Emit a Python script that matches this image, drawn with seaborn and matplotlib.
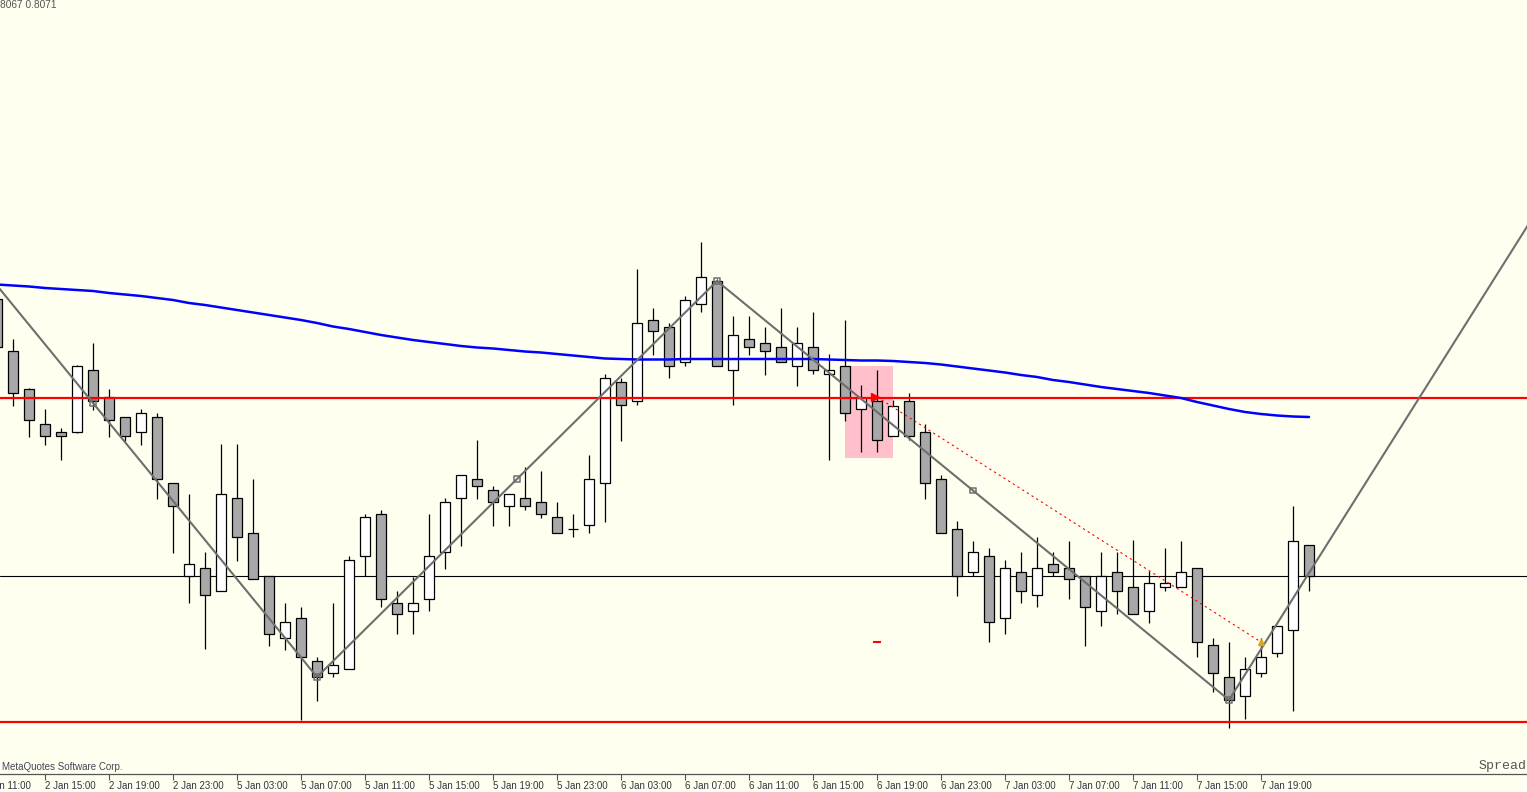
import numpy as np
import pandas as pd
import matplotlib
matplotlib.use("Agg")
import matplotlib.pyplot as plt
import seaborn as sns
from matplotlib.patches import Rectangle

# H1 candles, 2 Jan 12:00 .. 7 Jan 22:00 (weekend skipped)
open_ = [0.81162, 0.81058, 0.80982, 0.80912, 0.80896, 0.80896, 0.81020, 0.80966, 0.80926, 0.80896,
         0.80926, 0.80794, 0.80608, 0.80624, 0.80578, 0.80764, 0.80694, 0.80608, 0.80484, 0.80524,
         0.80438, 0.80414, 0.80422, 0.80648, 0.80732, 0.80554, 0.80538, 0.80562, 0.80656, 0.80764,
         0.80802, 0.80780, 0.80748, 0.80764, 0.80756, 0.80726, 0.80702, 0.80710, 0.80794, 0.80996,
         0.80958, 0.81120, 0.81106, 0.81036, 0.81152, 0.81198, 0.81020, 0.81082, 0.81074, 0.81066,
         0.81028, 0.81066, 0.81012, 0.81028, 0.80942, 0.80958, 0.80888, 0.80958, 0.80896, 0.80802,
         0.80702, 0.80616, 0.80648, 0.80524, 0.80616, 0.80570, 0.80632, 0.80624, 0.80608, 0.80538,
         0.80616, 0.80586, 0.80538, 0.80586, 0.80586, 0.80624, 0.80470, 0.80406, 0.80368, 0.80414,
         0.80454, 0.80500, 0.80670]
high = [0.81180, 0.81082, 0.80984, 0.80942, 0.80904, 0.81030, 0.81074, 0.80982, 0.80926, 0.80942,
        0.80934, 0.80794, 0.80772, 0.80656, 0.80872, 0.80872, 0.80802, 0.80608, 0.80554, 0.80546,
        0.80446, 0.80554, 0.80648, 0.80732, 0.80740, 0.80578, 0.80606, 0.80732, 0.80764, 0.80810,
        0.80880, 0.80788, 0.80772, 0.80826, 0.80818, 0.80756, 0.80732, 0.80850, 0.81012, 0.81004,
        0.81222, 0.81144, 0.81114, 0.81168, 0.81276, 0.81202, 0.81128, 0.81128, 0.81106, 0.81144,
        0.81106, 0.81136, 0.81052, 0.81120, 0.80990, 0.81020, 0.80960, 0.80974, 0.80912, 0.80810,
        0.80718, 0.80678, 0.80664, 0.80640, 0.80656, 0.80686, 0.80656, 0.80678, 0.80608, 0.80656,
        0.80656, 0.80680, 0.80618, 0.80664, 0.80678, 0.80624, 0.80484, 0.80476, 0.80446, 0.80484,
        0.80508, 0.80748, 0.80670]
low = [0.81056, 0.80948, 0.80886, 0.80870, 0.80840, 0.80894, 0.80940, 0.80886, 0.80878, 0.80870,
       0.80762, 0.80654, 0.80554, 0.80462, 0.80578, 0.80638, 0.80602, 0.80468, 0.80460, 0.80320,
       0.80358, 0.80406, 0.80422, 0.80608, 0.80546, 0.80492, 0.80492, 0.80538, 0.80622, 0.80668,
       0.80762, 0.80708, 0.80708, 0.80740, 0.80724, 0.80694, 0.80686, 0.80694, 0.80716, 0.80878,
       0.80950, 0.81050, 0.81004, 0.81028, 0.81136, 0.81028, 0.80950, 0.81050, 0.81010, 0.81036,
       0.80988, 0.81012, 0.80840, 0.80918, 0.80856, 0.80856, 0.80888, 0.80880, 0.80762, 0.80694,
       0.80568, 0.80608, 0.80476, 0.80492, 0.80554, 0.80546, 0.80608, 0.80562, 0.80468, 0.80508,
       0.80532, 0.80532, 0.80514, 0.80578, 0.80586, 0.80446, 0.80376, 0.80304, 0.80322, 0.80406,
       0.80446, 0.80338, 0.80578]
close = [0.81066, 0.80974, 0.80920, 0.80888, 0.80888, 0.81028, 0.80958, 0.80920, 0.80888, 0.80934,
         0.80802, 0.80748, 0.80632, 0.80570, 0.80772, 0.80686, 0.80602, 0.80492, 0.80516, 0.80446,
         0.80406, 0.80430, 0.80640, 0.80726, 0.80562, 0.80532, 0.80554, 0.80648, 0.80756, 0.80810,
         0.80788, 0.80756, 0.80772, 0.80748, 0.80732, 0.80694, 0.80702, 0.80802, 0.81004, 0.80950,
         0.81114, 0.81098, 0.81028, 0.81160, 0.81206, 0.81028, 0.81090, 0.81066, 0.81058, 0.81036,
         0.81074, 0.81020, 0.81020, 0.80934, 0.80964, 0.80880, 0.80948, 0.80888, 0.80794, 0.80694,
         0.80608, 0.80656, 0.80516, 0.80624, 0.80578, 0.80624, 0.80616, 0.80602, 0.80546, 0.80608,
         0.80578, 0.80532, 0.80594, 0.80594, 0.80616, 0.80476, 0.80414, 0.80360, 0.80422, 0.80446,
         0.80508, 0.80678, 0.80608]
# moving average (blue), one value per bar
ma = [0.81191, 0.81189, 0.81187, 0.81184, 0.81182, 0.81180, 0.81178, 0.81174, 0.81171, 0.81168,
      0.81164, 0.81160, 0.81154, 0.81150, 0.81145, 0.81140, 0.81135, 0.81130, 0.81125, 0.81120,
      0.81114, 0.81107, 0.81102, 0.81096, 0.81090, 0.81085, 0.81080, 0.81076, 0.81072, 0.81068,
      0.81065, 0.81063, 0.81060, 0.81057, 0.81055, 0.81052, 0.81049, 0.81046, 0.81043, 0.81042,
      0.81041, 0.81041, 0.81041, 0.81042, 0.81042, 0.81042, 0.81042, 0.81042, 0.81042, 0.81042,
      0.81042, 0.81042, 0.81041, 0.81040, 0.81039, 0.81039, 0.81038, 0.81036, 0.81034, 0.81031,
      0.81027, 0.81023, 0.81019, 0.81015, 0.81010, 0.81006, 0.81000, 0.80996, 0.80991, 0.80986,
      0.80982, 0.80978, 0.80974, 0.80969, 0.80964, 0.80956, 0.80949, 0.80942, 0.80936, 0.80932,
      0.80929, 0.80927, 0.80926]

# zigzag vertices (bar number, price)
zz_bar = [-8, 20, 45, 77, 116]
zz_price = [0.81502, 0.80406, 0.81198, 0.80360, 0.82342]

# horizontal levels
red_levels = [0.80965, 0.80317]

# trade: entry / exit
trade_bar = [55, 79]
trade_price = [0.80966, 0.80476]
tp_price = 0.80476

# highlighted zone
zone_bars = [53, 56]
zone_prices = [0.80845, 0.81028]

tick_labels = ["2 Jan 11:00", "2 Jan 15:00", "2 Jan 19:00", "2 Jan 23:00", "5 Jan 03:00",
               "5 Jan 07:00", "5 Jan 11:00", "5 Jan 15:00", "5 Jan 19:00", "5 Jan 23:00",
               "6 Jan 03:00", "6 Jan 07:00", "6 Jan 11:00", "6 Jan 15:00", "6 Jan 19:00",
               "6 Jan 23:00", "7 Jan 03:00", "7 Jan 07:00", "7 Jan 11:00", "7 Jan 15:00",
               "7 Jan 19:00"]

df = pd.DataFrame({"open": open_, "high": high, "low": low, "close": close, "ma": ma})
df["bar"] = np.arange(len(df))
df["bull"] = df["close"] >= df["open"]

bg = "#fffff0"
sns.set_theme(style="white", rc={"axes.facecolor": bg, "figure.facecolor": bg})
plt.rcParams["font.family"] = ["Liberation Sans", "DejaVu Sans"]

fig = plt.figure(figsize=(15.27, 7.92), dpi=100)
ax = fig.add_axes([0, 18 / 792, 1, 774 / 792])

# zone
ax.add_patch(Rectangle((zone_bars[0], zone_prices[0]), zone_bars[1] - zone_bars[0],
                       zone_prices[1] - zone_prices[0], facecolor="#ffc0cb", edgecolor="none", zorder=1))

# bid line
ax.axhline(df["close"].iloc[-1], color="black", lw=0.8, zorder=1.5)

# candles
ax.vlines(df["bar"], df["low"], df["high"], color="black", lw=0.9, zorder=2)
body_lo = df[["open", "close"]].min(axis=1)
body_h = (df["close"] - df["open"]).abs()
ax.bar(df["bar"], body_h, bottom=body_lo, width=0.6,
       color=np.where(df["bull"], "white", "#a8a8a8"), edgecolor="black", linewidth=0.9, zorder=3)

# levels
for lv in red_levels:
    ax.axhline(lv, color="#ff0000", lw=1.6, zorder=4)

# moving average
sns.lineplot(x=df["bar"], y=df["ma"], color="#0000ff", lw=1.8, ax=ax, zorder=5)

# zigzag with vertex + midpoint squares
sns.lineplot(x=zz_bar, y=zz_price, color="#6e6e6e", lw=1.5, ax=ax, zorder=6, sort=False)
mid_bar = (np.array(zz_bar[:-1]) + np.array(zz_bar[1:])) / 2
mid_price = (np.array(zz_price[:-1]) + np.array(zz_price[1:])) / 2
sq_x = np.concatenate([zz_bar, mid_bar])
sq_y = np.concatenate([zz_price, mid_price])
ax.scatter(sq_x, sq_y, marker="s", s=14, facecolor="none", edgecolor="#6e6e6e", linewidth=1.1, zorder=7)

# trade
ax.plot(trade_bar, trade_price, color="#ff0000", lw=0.8, ls=(0, (2, 3)), zorder=6)
ax.plot(trade_bar[0] - 0.15, trade_price[0], marker=">", ms=6, color="#ff0000", zorder=8)
ax.plot(trade_bar[1], trade_price[1], marker="^", ms=5, color="#daa520", zorder=8)
ax.plot(trade_bar[0], tp_price, marker="_", ms=6, mew=1.5, color="#ff0000", zorder=8)

# time axis: one label every 4 bars, first one sits just left of the view
tick_pos = np.arange(-1, -1 + 4 * len(tick_labels), 4)
x0, x1 = 3 / 16, 1530 / 16
inside = (tick_pos >= x0) & (tick_pos <= x1)
ax.set_xticks(tick_pos[inside])
ax.set_xticklabels([t for t, ok in zip(tick_labels, inside) if ok], ha="left", fontsize=7, color="#333344")
for pos, t, ok in zip(tick_pos, tick_labels, inside):
    if not ok:
        ax.text(pos, -0.009, t, transform=ax.get_xaxis_transform(), ha="left", va="top",
                fontsize=7, color="#333344", clip_on=False)
ax.set_xlim(x0, x1)
ax.set_ylim(0.80212, 0.81760)
ax.tick_params(axis="x", bottom=True, direction="out", length=4, width=0.8, color="#555555", pad=1)
ax.set_yticks([])
ax.set_xlabel("")
ax.set_ylabel("")
for side in ["top", "left", "right"]:
    ax.spines[side].set_visible(False)
ax.spines["bottom"].set_color("#555555")
ax.spines["bottom"].set_linewidth(0.9)

fig.text(0, 1 - 5 / 792, "8067 0.8071", fontsize=7.3, color="#555555", va="center", ha="left")
fig.text(2 / 1527, 1 - 767 / 792, "MetaQuotes Software Corp.", fontsize=7, color="#444455",
         va="center", ha="left")
fig.text(1, 1 - 766 / 792, "Spread", fontsize=9.5, color="#555555", va="center", ha="right",
         family=["Liberation Mono", "DejaVu Sans Mono"])

fig.savefig("out.png", dpi=100, facecolor=bg)
